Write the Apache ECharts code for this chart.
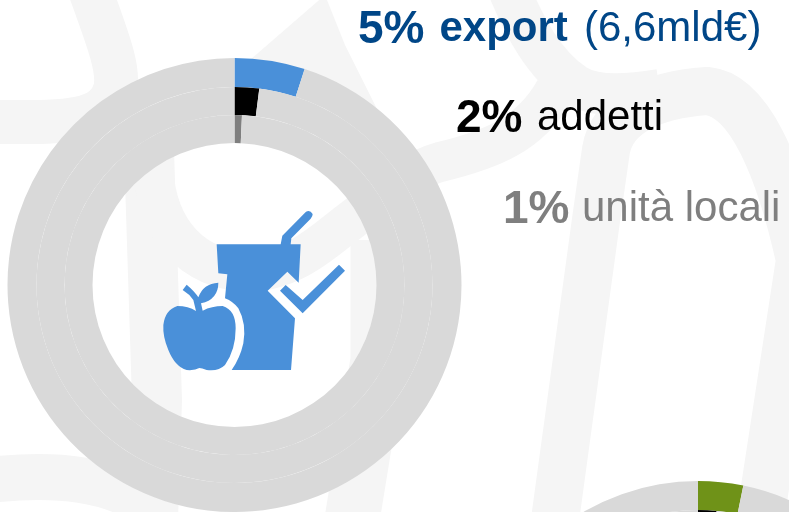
<!DOCTYPE html>
<html><head><meta charset="utf-8">
<style>html,body{margin:0;padding:0;background:#fff}#c{width:789px;height:512px}</style>
<script src="https://cdn.jsdelivr.net/npm/echarts@6/dist/echarts.min.js"></script>
</head><body><div id="c"></div>
<script>
// Shares in percent, from outer ring to inner ring
const ringNames = ['export', 'addetti', 'unità locali'];
const foodShares = [5, 2, 0.7];
const secondShares = [3.2, 1.5, 1];
const ringColors = ['#4a90d9', '#000000', '#7f7f7f'];
const secondColors = ['#6f9218', '#000000', '#7f7f7f'];
const restColor = '#d9d9d9';
const ringRadii = [[198, 227], [170, 198], [142, 170]];

function rings(shares, colors, center, tag) {
  return shares.map((v, i) => ({
    type: 'pie', name: tag + ' ' + ringNames[i], center, radius: ringRadii[i], z: 2,
    startAngle: 90, clockwise: true, silent: true, animation: false,
    label: {show: false}, labelLine: {show: false},
    data: [
      {name: ringNames[i], value: v, itemStyle: {color: colors[i]}},
      {name: 'resto', value: 100 - v, itemStyle: {color: restColor}}
    ]
  }));
}
const wm = '#f5f5f5';
const band = (d, w) => ({type: 'path', shape: {pathData: d},
  style: {fill: 'none', stroke: wm, lineWidth: w}});
const patch = d => ({type: 'path', shape: {pathData: d}, style: {fill: wm}});
const FONT = '"Liberation Sans", Arial, sans-serif';
const label = (text, x, baseline, size, bold, color) => ({
  type: 'text', x, y: baseline - 0.3465 * size, z: 10, silent: true,
  style: {text, verticalAlign: 'middle', fill: color,
    font: (bold ? 'bold ' : '') + size + 'px ' + FONT}
});
const cup = 'M380 313 L572 313 L577 287 L648 215 Q660 208 668 222 Q668 230 662 236 L604 295 L602 313 L632 313 L626 428 L592 395 L533 452 L615 535 L603 690 L425 690 Q450 655 460 610 Q470 550 445 505 Q430 485 405 475 L412 403 L385 400 Z';
const check = 'M587 435 L638 480 L747 374 L765 392 L638 520 L570 452 Z';
const apple = 'M262 498 Q295 498 318 513 L310 480 Q298 462 278 450 L290 434 Q315 455 325 472 Q340 430 385 428 Q385 478 333 490 L338 512 Q365 498 398 498 Q437 510 437 565 Q437 630 405 675 Q385 695 350 690 Q335 684 328 684 Q315 692 290 690 Q255 680 235 630 Q218 590 220 555 Q225 510 262 498 Z';
const icon = d => ({type: 'path', x: 90, y: 140, scaleX: 1/3, scaleY: 1/3,
  shape: {pathData: d}, style: {fill: '#4a90d9'}});
const bands = [
  band('M90 -10 C108 40 120 70 115 90 C105 125 60 122 -10 122', 44),
  band('M149 150 L157 400 L153 520', 50),
  band('M-10 480 C60 472 110 480 150 505', 46),
  band('M153 170 C158 235 195 268 245 272 C290 272 320 245 345 225 C385 195 410 170 440 162 C490 150 530 135 555 90', 40),
  band('M555 520 L596 220 L606 150 C612 115 650 95 707 91 C750 95 780 170 800 260 L760 520', 48),
  band('M505 -20 C525 30 545 65 575 85 C595 98 630 95 660 90', 42),
  patch('M250 60 L325 -5 L345 45 L380 115 L400 200 L370 200 L340 110 L260 80 Z'),
  band('M378 240 L378 360 L352 520', 55)
];
const deco = (z, children) => ({type: 'custom', coordinateSystem: 'none', z, silent: true, data: [0],
  renderItem: () => ({type: 'group', children})});

const chart = echarts.init(document.getElementById('c'), null, {renderer: 'canvas'});
chart.setOption({
  backgroundColor: '#fff', animation: false,
  series: [
    deco(1, bands),
    ...rings(foodShares, ringColors, [234.5, 285], 'A'),
    ...rings(secondShares, secondColors, [698, 708], 'B'),
    deco(3, [icon(cup), icon(check), icon(apple)])
  ],
  graphic: {elements: [
    label('5%', 358, 46.5, 46, true, '#004687'),
    label('export', 439.5, 44, 42, true, '#004687'),
    label('(6,6mld€)', 584, 44, 42, false, '#004687'),
    label('2%', 456, 135, 46, true, '#000000'),
    label('addetti', 537, 132.5, 42, false, '#000000'),
    label('1%', 503, 226.5, 46, true, '#7f7f7f'),
    label('unità locali', 582, 224, 42, false, '#7f7f7f')
  ]}
});
</script></body></html>
